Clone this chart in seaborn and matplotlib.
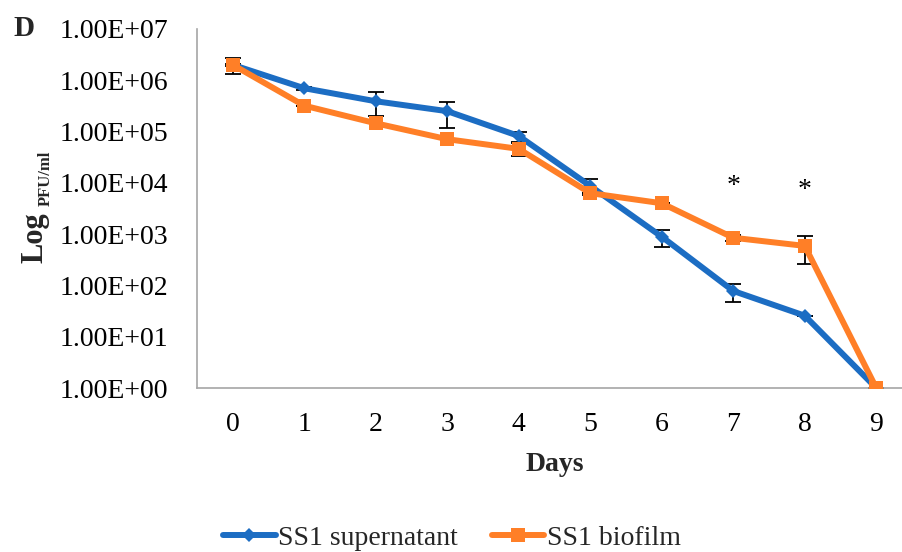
import numpy as np
import pandas as pd
import matplotlib
matplotlib.use("Agg")
import matplotlib.pyplot as plt
import seaborn as sns
from matplotlib.ticker import FuncFormatter, FixedLocator

days = [0, 1, 2, 3, 4, 5, 6, 7, 8, 9]
supernatant = [2.0e6, 7.0e5, 3.9e5, 2.5e5, 8.2e4, 8.7e3, 890, 78, 25.7, 1]
supernatant_err = [1e5, 5e4, 1.9e5, 1.3e5, 1.8e4, 3.0e3, 330, 30, 0, 0]
biofilm = [2.0e6, 3.2e5, 1.45e5, 7.1e4, 4.6e4, 6.3e3, 4.0e3, 850, 590, 1]
biofilm_err = [7e5, 0, 0, 0, 1.3e4, 0, 0, 120, 330, 0]
series_names = ["SS1 supernatant", "SS1 biofilm"]
star_days = [7, 8]
star_values = [8.5e3, 7.0e3]

sns.set_style("white")
plt.rcParams["font.family"] = ["Liberation Serif", "DejaVu Serif"]

df = pd.DataFrame({
    "Days": days * 2,
    "Value": supernatant + biofilm,
    "Series": [series_names[0]] * len(days) + [series_names[1]] * len(days),
})

blue = "#1C6DC3"
orange = "#FF7F27"

fig = plt.figure(figsize=(9.03, 5.52), dpi=100)
ax = fig.add_axes([197 / 903, 1 - 388 / 552, 715 / 903, (388 - 29) / 552])

ax.errorbar(days, supernatant, yerr=supernatant_err, fmt="none", ecolor="black",
            elinewidth=1.3, capsize=6, capthick=1.3, zorder=1)
ax.errorbar(days, biofilm, yerr=biofilm_err, fmt="none", ecolor="black",
            elinewidth=1.3, capsize=6, capthick=1.3, zorder=1)

sns.lineplot(data=df, x="Days", y="Value", hue="Series", style="Series",
             palette=[blue, orange], markers=["D", "s"], dashes=False,
             linewidth=4.3, markersize=9, markeredgewidth=0, ax=ax, zorder=3)
for line in ax.get_lines():
    if line.get_marker() == "D":
        line.set_markersize(7)
    elif line.get_marker() == "s":
        line.set_markersize(10)

ax.set_yscale("log")
ax.set_ylim(1, 1e7)
ax.set_xlim(-0.5, 9.5)
ax.yaxis.set_major_locator(FixedLocator([10.0 ** k for k in range(8)]))
ax.yaxis.set_minor_locator(FixedLocator([]))
ax.yaxis.set_major_formatter(FuncFormatter(lambda v, p: f"{v:.2E}"))

ax.set_xticks(days)
ax.set_xticklabels([str(d) for d in days])
ax.xaxis.set_minor_locator(FixedLocator(np.arange(-0.5, 10.0, 1.0)))
ax.tick_params(axis="x", which="major", length=0, labelsize=20, pad=17, colors="black")
ax.tick_params(axis="x", which="minor", length=6, width=1.2, color="#A6A6A6", direction="out")
ax.tick_params(axis="y", which="major", length=6, width=1.2, color="#A6A6A6",
               direction="out", labelsize=20, pad=15, labelcolor="black")

for s in ["top", "right"]:
    ax.spines[s].set_visible(False)
for s in ["left", "bottom"]:
    ax.spines[s].set_color("#A6A6A6")
    ax.spines[s].set_linewidth(1.2)

ax.set_xlabel("Days", fontsize=20, fontweight="bold", labelpad=11)
ax.set_ylabel("")

for d, v in zip(star_days, star_values):
    ax.text(d, v, "*", ha="center", va="center", fontsize=20, color="black")

fig.text(35 / 903, 1 - 238 / 552, "Log", rotation=90, ha="center", va="center",
         fontsize=22, fontweight="bold")
fig.text(46 / 903, 1 - 178 / 552, "PFU/ml", rotation=90, ha="center", va="center",
         fontsize=12, fontweight="bold")
fig.text(24 / 903, 1 - 28 / 552, "D", ha="center", va="center",
         fontsize=21, fontweight="bold")

handles, labels = ax.get_legend_handles_labels()
ax.legend(handles, labels, loc="center", bbox_to_anchor=(452 / 903, 1 - 538 / 552),
          bbox_transform=fig.transFigure, ncol=2, frameon=False, fontsize=20,
          handlelength=1.9, columnspacing=1.2, handletextpad=0.1,
          borderaxespad=0, borderpad=0)

fig.savefig("out.png", dpi=100)
